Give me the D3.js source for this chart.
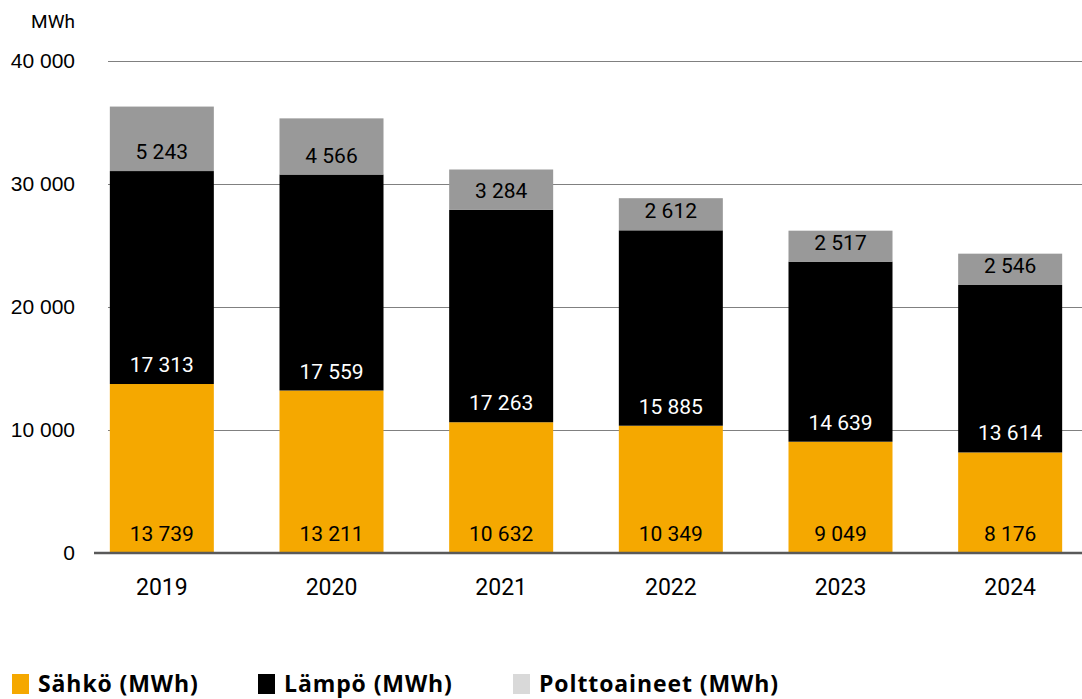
<!DOCTYPE html>
<html lang="fi">
<head>
<meta charset="UTF-8">
<title>Energiankulutus</title>
<script src="https://cdn.jsdelivr.net/npm/d3@7"></script>
<style>
    body { margin: 0; background: #fff; }
    svg { display: block; font-family: Roboto, "Noto Sans", sans-serif; }
</style>
</head>
<body>
<script>
    // data
    const years = ["2019", "2020", "2021", "2022", "2023", "2024"];
    const sahko = [13739, 13211, 10632, 10349, 9049, 8176];
    const lampo = [17313, 17559, 17263, 15885, 14639, 13614];
    const polttoaineet = [5243, 4566, 3284, 2612, 2517, 2546];
    const yTicks = [0, 10000, 20000, 30000, 40000];
    const seriesNames = ["Sähkö (MWh)", "Lämpö (MWh)", "Polttoaineet (MWh)"];

    const W = 1082, H = 699;
    const keys = ["sahko", "lampo", "polttoaineet"];
    const fill = {sahko: "#f5a800", lampo: "#000000", polttoaineet: "#999999"};
    const legendFill = ["#f5a800", "#000000", "#d9d9d9"];
    const labelColor = {sahko: "#000", lampo: "#fff", polttoaineet: "#000"};

    let rows = years.map((y, i) => ({
        year: y, sahko: sahko[i], lampo: lampo[i], polttoaineet: polttoaineet[i]
    }));

    let svg = d3.select("body").append("svg")
        .attr("width", W).attr("height", H);

    let x = d3.scaleBand()
        .domain(years)
        .range([77, 1095])
        .paddingInner(0.387)
        .paddingOuter(0.1935);

    let y = d3.scaleLinear()
        .domain([0, 40000])
        .range([553, 61]);

    const fmt = d => d3.format(",")(d).replace(/,/g, " ");

    // gridlines + tick labels
    let yAxis = svg.append("g")
        .attr("transform", "translate(108,0)")
        .call(d3.axisLeft(y).tickValues(yTicks).tickSize(-(W - 108)).tickPadding(33).tickFormat(fmt));
    yAxis.select(".domain").remove();
    yAxis.selectAll(".tick line").attr("stroke", "#808080").attr("stroke-width", 1);
    yAxis.selectAll(".tick text")
        .attr("fill", "#000")
        .style("font-size", "21px");

    svg.append("text")
        .attr("x", 75).attr("y", 28)
        .attr("text-anchor", "end")
        .style("font-size", "19px")
        .text("MWh");

    // stacked bars
    let stacked = d3.stack().keys(keys)(rows);

    let layers = svg.selectAll("g.layer")
        .data(stacked)
        .enter()
        .append("g")
        .attr("class", "layer")
        .attr("fill", d => fill[d.key]);

    layers.selectAll("rect")
        .data(d => d)
        .enter()
        .append("rect")
        .attr("x", d => x(d.data.year))
        .attr("width", x.bandwidth())
        .attr("y", d => y(d[1]))
        .attr("height", d => y(d[0]) - y(d[1]));

    layers.selectAll("text")
        .data(d => d.map(v => ({key: d.key, v: v})))
        .enter()
        .append("text")
        .attr("x", d => x(d.v.data.year) + x.bandwidth() / 2)
        .attr("y", d => y(d.v[0]) - 12)
        .attr("text-anchor", "middle")
        .attr("fill", d => labelColor[d.key])
        .style("font-size", "21px")
        .text(d => fmt(d.v.data[d.key]));

    // baseline
    svg.append("line")
        .attr("x1", 94).attr("x2", W)
        .attr("y1", y(0)).attr("y2", y(0))
        .attr("stroke", "#595959")
        .attr("stroke-width", 2.5);

    // year labels
    svg.append("g")
        .selectAll("text")
        .data(years)
        .enter()
        .append("text")
        .attr("x", d => x(d) + x.bandwidth() / 2)
        .attr("y", 595)
        .attr("text-anchor", "middle")
        .style("font-size", "23px")
        .text(d => d);

    // legend
    const legendX = [12, 258, 513];
    let legend = svg.append("g")
        .selectAll("g")
        .data(seriesNames)
        .enter()
        .append("g")
        .attr("transform", (d, i) => "translate(" + legendX[i] + ",0)");
    legend.append("rect")
        .attr("x", 0).attr("y", 674)
        .attr("width", 17).attr("height", 20)
        .attr("fill", (d, i) => legendFill[i]);
    legend.append("text")
        .attr("x", 26).attr("y", 692)
        .style("font-family", "'Open Sans', Roboto, sans-serif")
        .style("font-size", "23px")
        .style("font-weight", "bold")
        .style("letter-spacing", "0.9px")
        .text(d => d);
</script>
</body>
</html>
